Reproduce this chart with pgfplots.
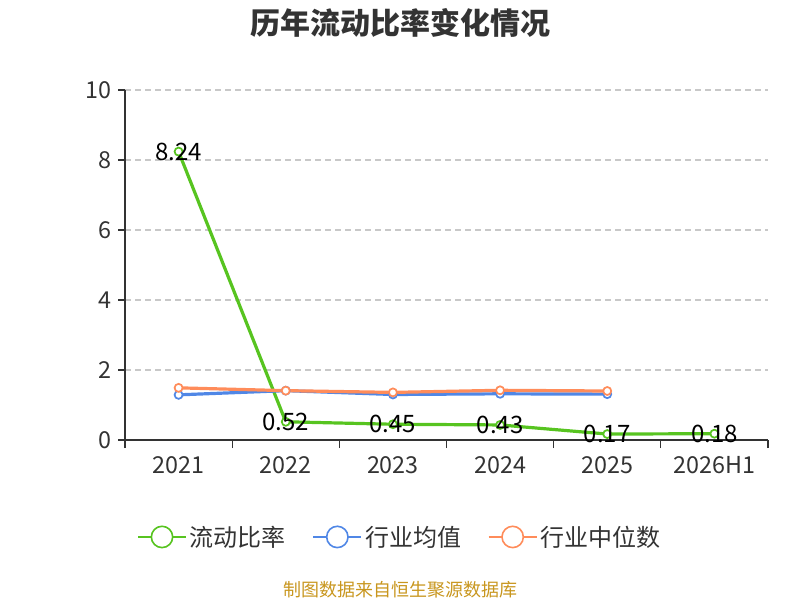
\documentclass[border=0pt]{standalone}
\usepackage{fontspec}
\setmainfont{Noto Sans CJK SC}
\usepackage{pgfplots}
\pgfplotsset{compat=1.18}
\definecolor{cgreen}{RGB}{87,196,32}
\definecolor{cblue}{RGB}{80,135,230}
\definecolor{corange}{RGB}{255,140,90}
\definecolor{ctext}{RGB}{51,51,51}
\definecolor{cgrid}{RGB}{200,200,200}
\definecolor{csrc}{RGB}{200,150,30}
\begin{document}
\begin{tikzpicture}
\useasboundingbox (0,0) rectangle (600pt,450pt);
\node[font=\fontsize{22.5}{25}\selectfont\bfseries, text=ctext] at (300pt,433pt) {历年流动比率变化情况};
\node[font=\fontsize{13.5}{15}\selectfont, text=csrc] at (300pt,7.5pt) {制图数据来自恒生聚源数据库};
\begin{axis}[
  at={(93.75pt,120pt)}, anchor=south west,
  scale only axis, width=482.25pt, height=262.5pt,
  xmin=-0.5, xmax=5.5, ymin=0, ymax=10,
  axis x line*=bottom, axis y line*=left,
  axis line style={ctext, line width=0.8pt},
  xtick={0,...,5},
  xticklabels={2021,2022,2023,2024,2025,2026H1},
  minor xtick={-0.5,0.5,...,5.5},
  major x tick style={draw=none},
  minor x tick style={ctext, line width=0.8pt},
  minor tick length=6pt,
  ytick={0,2,...,10},
  y tick style={ctext, line width=0.8pt},
  major tick length=5pt,
  tick align=outside,
  ymajorgrids, grid style={cgrid, dash pattern=on 4.5pt off 3pt, line width=0.8pt},
  tick label style={font=\fontsize{17.5}{20}\selectfont, text=ctext},
  /pgf/number format/assume math mode=true,
  yticklabel style={xshift=-2pt},
  xticklabel style={yshift=-4pt},
  legend style={at={(0.4277,-0.277)}, anchor=center, draw=none, fill=none,
    legend columns=3, font=\fontsize{18}{21}\selectfont, text=ctext,
    /tikz/every even column/.append style={column sep=18pt}},
  legend image code/.code={
    \draw[#1, mark=none, line width=1.5pt] (0pt,0pt) -- (36pt,0pt);
    \draw[#1, mark=none, fill=white, line width=1.2pt] (18pt,0pt) circle (8pt);
  },
  every axis plot/.append style={line width=2.4pt, mark=*, mark size=3pt,
    mark options={fill=white, line width=1.3pt}},
]
\addplot[cgreen, nodes near coords, point meta=explicit symbolic,
  nodes near coords style={anchor=center, text=black, font=\fontsize{18}{21}\selectfont}]
  coordinates {(0,8.24)[8.24] (1,0.52)[0.52] (2,0.45)[0.45] (3,0.43)[0.43] (4,0.17)[0.17] (5,0.18)[0.18]};
\addlegendentry{流动比率}
\addplot[cblue] coordinates {(0,1.29) (1,1.41) (2,1.30) (3,1.32) (4,1.31)};
\addlegendentry{行业均值}
\addplot[corange] coordinates {(0,1.49) (1,1.41) (2,1.36) (3,1.42) (4,1.40)};
\addlegendentry{行业中位数}
\end{axis}
\end{tikzpicture}
\end{document}
